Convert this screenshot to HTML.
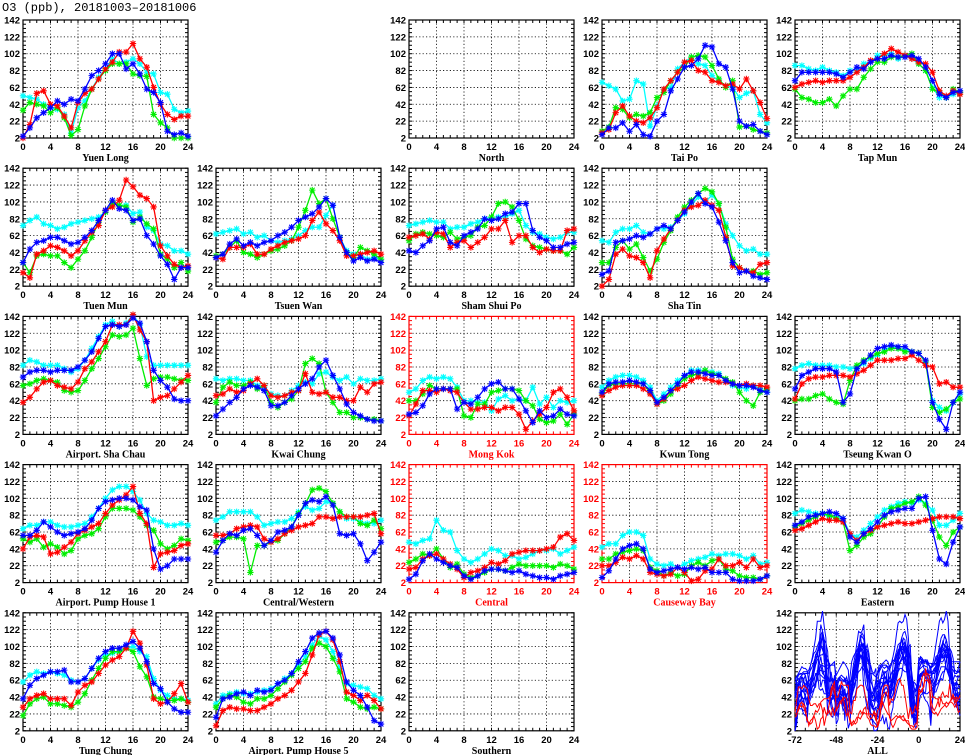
<!DOCTYPE html>
<html><head><meta charset="utf-8"><style>
html,body{margin:0;padding:0;background:#fff;width:965px;height:755px;overflow:hidden}
svg text{font-family:"Liberation Sans",sans-serif}
</style></head><body>
<svg id="chart" width="965" height="755" xmlns="http://www.w3.org/2000/svg">
<text x="2" y="11" font-size="12" fill="#000" style="font-family:'Liberation Mono',monospace">O3 (ppb), 20181003–20181006</text>
</svg>
<script>
const stationNames=["Yuen Long","North","Tai Po","Tap Mun","Tuen Mun","Tsuen Wan","Sham Shui Po","Sha Tin","Airport. Sha Chau","Kwai Chung","Mong Kok","Kwun Tong","Tseung Kwan O","Airport. Pump House 1","Central/Western","Central","Causeway Bay","Eastern","Tung Chung","Airport. Pump House 5","Southern"];
const stationRow=[0,0,0,0,1,1,1,1,2,2,2,2,2,3,3,3,3,3,4,4,4];
const stationCol=[0,2,3,4,0,1,2,3,0,1,2,3,4,0,1,2,3,4,0,1,2];
const roadside=["Mong Kok","Central","Causeway Bay"];
const xTicks=[0,4,8,12,16,20,24];
const yTicks=[2,22,42,62,82,102,122,142];
const allXTicks=[-72,-48,-24,0,24];
const redValues=[
[2,18,55,58,42,40,28,14,44,55,60,72,84,92,104,104,114,96,86,62,42,30,24,28,28],null,
[8,12,32,40,28,22,20,26,38,60,70,80,92,94,82,80,70,68,64,66,60,72,58,44,25],
[62,66,68,70,68,70,70,70,74,80,86,94,96,102,108,104,100,96,92,90,80,58,52,58,54],
[18,12,40,44,50,48,44,38,44,56,66,74,92,96,104,128,120,110,106,96,50,38,28,24,26],
[36,34,48,48,48,52,40,40,46,50,54,56,58,62,80,90,76,68,56,38,38,40,42,44,40],
[60,62,64,58,66,64,48,54,56,48,54,60,70,70,80,54,62,62,48,42,46,44,44,68,70],
[2,10,40,46,38,36,30,12,44,58,70,80,92,96,98,104,98,92,60,26,24,20,18,28,30],
[40,46,56,64,66,60,58,56,64,80,88,100,112,132,132,132,144,126,112,42,46,48,56,64,72],
[48,50,56,52,54,62,68,60,48,46,48,52,54,74,52,50,52,46,46,42,42,58,52,62,64],
[24,38,54,54,52,56,54,52,40,32,32,34,34,30,34,34,26,8,18,26,34,52,56,46,30],
[48,54,58,60,60,60,56,50,38,44,54,56,60,66,70,68,66,64,64,62,60,62,60,60,58],
[44,62,68,70,70,72,72,72,70,74,78,84,90,90,90,92,92,96,90,84,82,62,64,58,58],
[42,56,58,56,36,38,44,50,60,64,68,72,84,94,100,106,116,84,72,20,36,38,40,46,48],
[58,58,60,66,68,70,68,54,50,54,60,64,68,70,72,80,80,78,80,80,80,80,82,84,60],
[18,20,30,34,36,30,24,18,8,14,16,20,26,24,28,36,38,40,40,40,42,44,56,60,52],
[22,22,26,32,30,34,30,14,12,10,12,20,14,4,6,16,18,30,22,22,26,20,30,20,22],
[64,66,70,74,78,76,76,74,60,52,60,64,68,70,72,74,72,72,74,76,78,80,80,80,78],
[30,40,44,46,40,40,40,32,48,56,60,70,80,86,90,100,120,106,80,40,34,36,46,58,36],
[8,26,30,28,28,26,26,30,34,40,44,50,60,70,92,116,120,110,84,48,44,38,44,38,28],null];
const greenValues=[
[35,44,42,40,32,38,26,5,12,40,60,72,82,90,90,90,78,76,75,30,20,14,2,2,2],null,
[10,15,38,36,26,30,28,32,50,56,70,80,86,98,100,98,88,72,62,70,15,16,12,10,8],
[60,50,48,44,44,48,40,52,60,60,74,84,92,92,98,98,100,102,90,82,60,56,50,60,56],
[30,18,38,40,38,38,30,24,34,44,60,78,90,100,98,96,78,84,76,70,40,34,24,30,20],
[38,40,48,56,42,40,36,40,44,46,50,56,72,92,116,100,106,82,60,42,36,48,44,40,34],
[56,64,66,64,62,60,66,58,60,62,72,74,84,100,102,96,80,58,50,48,46,44,44,40,48],
[30,30,48,56,46,52,36,20,34,54,68,84,96,104,112,118,114,100,72,34,24,20,20,16,18],
[60,62,66,68,66,64,54,52,54,66,80,92,106,120,118,120,128,92,60,68,70,70,68,66,66],
[40,58,64,60,60,64,56,60,40,34,40,44,54,86,92,86,52,40,28,28,22,22,20,20,18],
[42,42,50,60,56,56,56,56,24,22,38,38,52,54,56,56,54,42,36,20,16,18,26,14,26],
[50,60,62,62,62,62,62,52,38,42,50,60,68,72,74,78,74,72,68,64,52,42,36,52,56],
[42,44,44,48,50,44,40,38,66,84,90,94,98,100,104,104,100,100,98,88,34,28,32,40,44],
[54,50,54,44,48,44,36,40,54,58,60,66,80,90,90,90,88,80,70,64,48,42,46,54,52],
[50,52,56,56,54,14,46,46,50,52,60,68,84,96,112,114,110,96,86,80,80,72,70,76,66],
[26,30,36,34,42,30,20,24,12,8,10,14,18,18,16,20,24,22,22,22,22,20,24,22,18],
[30,30,36,38,40,42,40,20,16,10,14,10,12,22,26,22,28,30,18,16,10,8,8,6,10],
[68,72,76,80,84,82,78,74,40,46,56,60,68,80,90,92,96,98,104,94,76,56,46,62,68],
[20,34,40,42,34,34,32,30,36,46,62,76,88,96,96,100,96,78,66,42,40,38,38,40,36],
[30,40,44,42,36,34,40,40,44,52,60,68,76,84,100,106,102,88,72,40,36,30,28,30,28],null];
const blueValues=[
[4,14,26,32,38,46,42,48,46,60,76,82,90,102,102,84,90,78,60,56,44,10,6,8,4],null,
[6,14,14,20,10,18,6,4,22,30,58,72,86,88,96,112,110,90,86,60,22,16,18,10,6],
[70,80,80,80,80,80,78,74,80,86,84,92,96,96,100,98,98,100,96,86,70,54,50,56,58],
[30,46,54,56,60,60,56,52,54,60,68,80,92,104,94,92,80,82,62,52,38,28,10,24,24],
[36,40,52,58,50,54,50,54,56,62,66,72,80,84,88,96,106,98,60,42,32,36,32,34,30],
[44,42,50,56,70,72,54,50,62,66,70,82,80,82,88,90,100,100,68,60,56,48,48,52,54],
[16,20,54,56,58,62,60,64,70,74,70,80,90,102,112,100,96,78,56,30,18,20,14,12,10],
[70,76,78,78,76,78,78,78,82,90,100,116,130,132,130,132,140,134,112,78,66,58,44,42,42],
[24,32,40,46,56,60,58,54,36,36,40,48,56,62,68,82,90,72,56,38,28,24,20,18,18],
[26,28,36,50,56,56,56,32,40,38,46,56,62,64,56,56,44,30,16,30,22,24,32,26,24],
[52,62,64,64,66,64,62,54,40,46,54,62,72,76,76,74,72,72,66,62,60,60,58,54,52],
[56,72,76,80,80,80,76,40,50,80,88,96,104,106,108,106,106,100,98,90,40,20,8,40,52],
[58,58,64,74,68,62,58,60,62,66,76,90,98,100,102,102,100,92,88,42,18,22,30,30,30],
[38,52,60,58,64,66,58,46,52,62,64,68,82,96,100,98,104,94,60,58,60,48,28,38,50],
[6,12,28,36,30,26,22,20,10,6,10,16,18,18,16,14,16,12,10,8,8,6,10,12,14],
[8,16,30,42,46,48,42,18,14,16,18,20,18,20,18,20,14,14,14,6,4,4,4,6,10],
[70,74,80,82,84,86,84,78,56,50,60,66,74,82,86,88,90,90,102,104,64,30,24,50,68],
[40,56,64,68,72,72,74,60,60,64,76,88,96,100,100,104,108,100,84,58,52,36,28,24,24],
[18,40,42,46,48,44,50,48,50,58,62,70,84,96,112,118,120,112,92,60,50,44,30,14,10],null];
const cyanValues=[
[52,50,48,42,38,36,30,8,38,46,60,74,84,96,90,92,96,90,80,78,56,54,36,32,34],null,
[68,64,60,46,48,70,66,16,40,60,62,84,92,98,90,88,76,70,64,62,50,55,58,30,20],
[88,88,84,82,86,82,80,76,82,82,90,92,100,100,102,96,100,96,90,82,62,50,50,54,56],
[74,80,84,76,74,70,72,76,78,80,82,84,90,100,98,98,88,90,72,68,52,50,44,44,40],
[64,66,68,70,64,66,60,62,56,54,56,58,62,68,72,72,86,98,60,44,40,40,34,36,34],
[74,76,78,80,78,78,70,72,72,76,78,82,84,84,84,88,92,74,66,64,60,58,60,66,66],
[56,54,66,70,70,74,66,64,70,70,72,80,88,98,108,102,110,100,76,62,50,44,46,40,40],
[84,90,88,84,84,84,80,76,80,90,104,118,132,136,130,134,144,132,94,84,84,84,84,84,84],
[68,66,68,68,66,66,60,58,50,48,48,54,60,64,62,74,76,70,66,70,62,68,66,66,68],
[52,56,66,70,68,70,68,58,42,42,40,40,30,44,48,42,44,42,58,38,46,34,42,40,42],
[58,66,70,72,72,70,66,58,42,50,58,66,72,78,78,78,76,74,66,60,58,56,60,56,52],
[80,84,86,84,84,84,82,82,80,82,86,92,96,102,106,104,102,100,98,88,42,34,30,40,50],
[66,70,70,74,74,70,68,68,70,72,80,90,102,112,116,116,110,100,84,76,74,70,70,72,70],
[76,80,86,86,86,86,80,70,72,74,74,78,86,92,88,90,98,96,86,78,78,74,72,72,76],
[50,48,52,54,76,64,62,40,30,26,30,36,42,40,34,34,30,32,36,40,40,42,36,40,44],
[44,48,48,58,62,62,58,30,24,22,24,20,24,28,30,32,36,34,36,36,34,30,34,24,26],
[84,88,86,84,84,80,80,78,60,56,64,72,80,88,92,96,98,96,100,96,88,70,70,76,84],
[60,68,72,70,72,70,68,62,60,64,76,86,92,94,96,100,102,96,90,64,50,44,40,40,38],
[34,44,46,48,46,46,48,50,52,58,64,70,80,90,104,114,110,96,76,58,56,54,52,44,40],null];

const NS="http://www.w3.org/2000/svg";
const svg=document.getElementById('chart');
const PW=165,PH=118;
function colX(c){return 23+193*c;}
function rowY(r){return 20+148.2*r;}
function mk(tag,attrs,parent){const e=document.createElementNS(NS,tag);for(const k in attrs)e.setAttribute(k,attrs[k]);(parent||svg).appendChild(e);return e;}

function drawPanel(name,x0,y0,xmin,xmax,isAll){
  const g=mk('g',{});
  
  
  const col=roadside.includes(name)?'#ff0000':'#000';
  const sx=v=>x0+(v-xmin)/(xmax-xmin)*PW;
  const sy=v=>y0+PH-(v-2)/140*PH;
  const xt=isAll?allXTicks:xTicks;
  yTicks.forEach(t=>{if(t>2&&t<142)mk('line',{x1:x0,x2:x0+PW,y1:sy(t),y2:sy(t),stroke:'#000','stroke-width':0.8,'stroke-dasharray':'1.2,2.2'},g);});
  xt.forEach(t=>{if(t>xmin&&t<xmax)mk('line',{x1:sx(t),x2:sx(t),y1:y0,y2:y0+PH,stroke:'#000','stroke-width':0.8,'stroke-dasharray':'1.2,2.2'},g);});
  for(let t=xmin;t<=xmax;t+=(isAll?6:1)){mk('line',{x1:sx(t),x2:sx(t),y1:y0,y2:y0+3,stroke:col,'stroke-width':1},g);mk('line',{x1:sx(t),x2:sx(t),y1:y0+PH,y2:y0+PH-3,stroke:col,'stroke-width':1},g);}
  for(let t=2;t<=142;t+=5){mk('line',{x1:x0,x2:x0+3,y1:sy(t),y2:sy(t),stroke:col,'stroke-width':1},g);mk('line',{x1:x0+PW,x2:x0+PW-3,y1:sy(t),y2:sy(t),stroke:col,'stroke-width':1},g);}
  yTicks.forEach(t=>{
    const l=mk('text',{x:x0-3,y:sy(t)+3.5,'text-anchor':'end','font-size':'9.5','font-weight':'bold',fill:col},g);l.textContent=t;
    
    
  });
  xt.forEach(t=>{
    const l=mk('text',{x:sx(t),y:y0+PH+12,'text-anchor':'middle','font-size':'9.5','font-weight':'bold',fill:col},g);l.textContent=t;
    
    
  });
  const tl=mk('text',{x:x0+PW/2,y:y0+PH+23,'text-anchor':'middle','font-size':'10','font-weight':'bold',fill:col,style:"font-family:'Liberation Serif',serif"},g);tl.textContent=name;
  
  
  mk('rect',{x:x0,y:y0,width:PW,height:PH,fill:'none',stroke:col,'stroke-width':1.2},g);
  return {g,sx,sy};
}

function drawSeries(p,vals,color,markers,xoff){
  const pts=vals.map((v,i)=>[p.sx(i+xoff),p.sy(v)]);
  const pl=mk('polyline',{points:pts.map(q=>q[0].toFixed(1)+','+q[1].toFixed(1)).join(' '),fill:'none',stroke:color,'stroke-width':markers?1.3:1},p.g);
  
  
  if(markers){pts.forEach(q=>{const [x,y]=q;const d=3.2;
    mk('path',{d:`M${x-d},${y}H${x+d}M${x},${y-d}V${y+d}M${x-d*.75},${y-d*.75}L${x+d*.75},${y+d*.75}M${x-d*.75},${y+d*.75}L${x+d*.75},${y-d*.75}`,stroke:color,'stroke-width':1.1,fill:'none'},p.g);});}
}

stationNames.forEach((n,i)=>{
  const p=drawPanel(n,colX(stationCol[i]),rowY(stationRow[i]),0,24,false);
  if(!redValues[i])return;
  drawSeries(p,cyanValues[i],'#00ffff',true,0);
  drawSeries(p,greenValues[i],'#00ee00',true,0);
  drawSeries(p,redValues[i],'#ff0000',true,0);
  drawSeries(p,blueValues[i],'#0000ff',true,0);
});
const pAll=drawPanel('ALL',colX(4),rowY(4),-72,24,true);
const order=[...stationNames.keys()].sort((a,b)=>roadside.includes(stationNames[a])-roadside.includes(stationNames[b]));
order.forEach(i=>{
  if(!redValues[i])return;
  const seq=[...redValues[i].slice(0,24),...greenValues[i].slice(0,24),...blueValues[i].slice(0,24),...cyanValues[i]];
  drawSeries(pAll,seq,roadside.includes(stationNames[i])?'#ff0000':'#0000ff',false,-72);
});
</script>
</body></html>
